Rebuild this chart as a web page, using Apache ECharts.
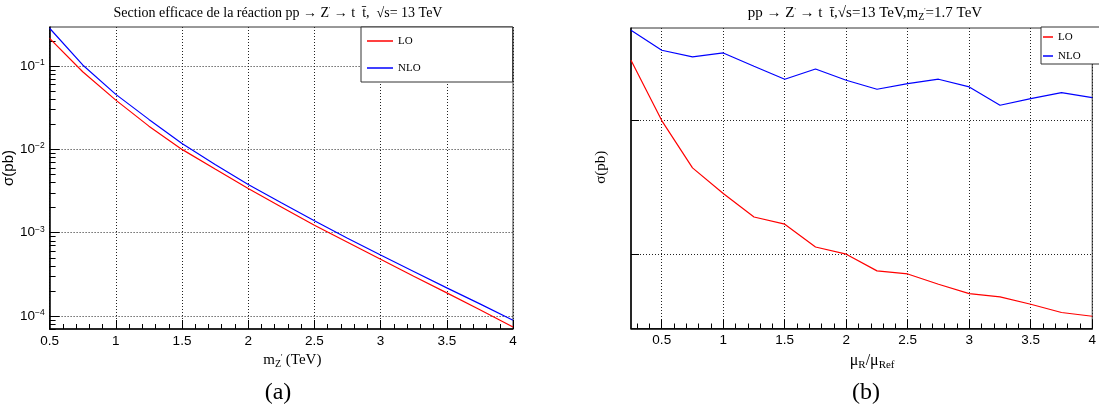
<!DOCTYPE html>
<html>
<head>
<meta charset="UTF-8">
<title>Section efficace pp -> Z' -> t tbar</title>
<script src="https://cdn.jsdelivr.net/npm/echarts@6/dist/echarts.min.js"></script>
<style>
  html, body { margin: 0; padding: 0; background: #fff; }
  #main { width: 1099px; height: 409px; }
</style>
</head>
<body>
<div id="main"></div>
<script type="text/javascript">
// (a) cross section vs Z' mass (TeV), in pb
var massTeV = [0.5, 0.75, 1, 1.25, 1.5, 1.75, 2, 2.25, 2.5, 2.75, 3, 3.25, 3.5, 3.75, 4];
var loMass  = [0.215, 0.0855, 0.039, 0.019, 0.0100, 0.0058, 0.0034, 0.00204, 0.00123, 7.7e-4, 4.8e-4, 3.0e-4, 1.9e-4, 1.19e-4, 7.4e-5];
var nloMass = [0.284, 0.103, 0.0457, 0.0229, 0.0118, 0.0066, 0.0038, 0.00229, 0.00139, 8.6e-4, 5.4e-4, 3.43e-4, 2.18e-4, 1.4e-4, 8.9e-5];

// (b) cross section vs renormalisation scale ratio, mZ' = 1.7 TeV
var muRatio = [0.25, 0.5, 0.75, 1, 1.25, 1.5, 1.75, 2, 2.25, 2.5, 2.75, 3, 3.25, 3.5, 3.75, 4];
var loMu  = [0.007452, 0.007000, 0.006645, 0.006453, 0.006277, 0.006223, 0.006052, 0.005998, 0.005873, 0.005850, 0.005773, 0.005703, 0.005678, 0.005623, 0.005561, 0.005533];
var nloMu = [0.007677, 0.007527, 0.007477, 0.007507, 0.007407, 0.007310, 0.007387, 0.007302, 0.007235, 0.007277, 0.007310, 0.007252, 0.007115, 0.007165, 0.007210, 0.007172];

// tick positions
var decadeTicks = [1e-4, 1e-3, 1e-2, 1e-1];
var decadeMinor = [];
[1e-5, 1e-4, 1e-3, 1e-2, 1e-1].forEach(function (d) {
    for (var k = 2; k <= 9; k++) decadeMinor.push(k * d);
});
var muMajor = [0.5, 1, 1.5, 2, 2.5, 3, 3.5, 4];
var muMinor = [0.3, 0.4, 0.6, 0.7, 0.8, 0.9, 1.1, 1.2, 1.3, 1.4, 1.6, 1.7, 1.8, 1.9, 2.1, 2.2, 2.3, 2.4,
               2.6, 2.7, 2.8, 2.9, 3.1, 3.2, 3.3, 3.4, 3.6, 3.7, 3.8, 3.9];
var muYTicks = [0.006, 0.007];

function pairs(xs, ys) {
    return xs.map(function (x, i) { return [x, ys[i]]; });
}

var SANS = 'Liberation Sans';
var SERIF = 'Liberation Serif';
var dotted = { color: '#222', type: [1, 2], width: 1 };
var axisLineStyle = { lineStyle: { color: '#000', width: 1.5 } };

var myChart = echarts.init(document.getElementById('main'));

var option = {
    animation: false,
    backgroundColor: '#fff',
    grid: [
        { left: 44.5, top: 27, width: 468.5, height: 302, show: true, borderColor: '#333', borderWidth: 1 },
        { left: 631, top: 28, width: 471, height: 300.5, show: true, borderColor: '#333', borderWidth: 1 }
    ],
    legend: [
        {
            data: ['LO', 'NLO'], orient: 'vertical', left: 361, top: 27,
            icon: 'rect', itemWidth: 26, itemHeight: 1.5, itemGap: 15,
            padding: [8, 92, 8, 6], borderColor: '#333', borderWidth: 1, backgroundColor: '#fff',
            textStyle: { fontFamily: SERIF, fontSize: 11, lineHeight: 12, color: '#000' }
        },
        {
            data: ['LO', 'NLO'], orient: 'vertical', left: 1041, top: 27,
            icon: 'rect', itemWidth: 10, itemHeight: 1.5, itemGap: 7,
            padding: [4, 30, 2, 2], borderColor: '#333', borderWidth: 1, backgroundColor: '#fff',
            textStyle: { fontFamily: SERIF, fontSize: 11, lineHeight: 12, color: '#000' }
        }
    ],
    xAxis: [
        {
            gridIndex: 0, type: 'value', min: 0.5, max: 4, interval: 0.5,
            name: '{n|m}{s|Z}{p|\'} {n|(TeV)}', nameLocation: 'middle', nameGap: 19,
            nameTextStyle: {
                padding: [0, 0, 0, 22],
                rich: {
                    n: { fontFamily: SERIF, fontSize: 15, color: '#000' },
                    s: { fontFamily: SERIF, fontSize: 10, color: '#000', verticalAlign: 'top', padding: [8, 0, 0, 0] },
                    p: { fontFamily: SERIF, fontSize: 8, color: '#000', verticalAlign: 'bottom', padding: [0, 0, 7, 0] }
                }
            },
            axisLine: axisLineStyle,
            axisTick: { inside: true, length: 9, lineStyle: { color: '#000' } },
            minorTick: { show: true, splitNumber: 5, length: 5, lineStyle: { color: '#000' } },
            axisLabel: { margin: 5, fontFamily: SANS, fontSize: 13.5, color: '#000' },
            splitLine: { show: true, lineStyle: dotted }
        },
        {
            gridIndex: 1, type: 'value', min: 0.25, max: 4,
            name: '{n|μ}{s|R}{n|/μ}{s|Ref}', nameLocation: 'middle', nameGap: 14,
            nameTextStyle: {
                padding: [0, 0, 0, 21],
                rich: {
                    n: { fontFamily: SERIF, fontSize: 16, color: '#000' },
                    s: { fontFamily: SERIF, fontSize: 11, color: '#000', verticalAlign: 'top', padding: [9, 0, 0, 0] }
                }
            },
            axisLine: axisLineStyle,
            axisTick: { inside: true, length: 9, customValues: muMajor, lineStyle: { color: '#000' } },
            axisLabel: { margin: 5, customValues: muMajor, fontFamily: SANS, fontSize: 13.5, color: '#000' },
            splitLine: { show: true, lineStyle: dotted }
        },
        {
            gridIndex: 1, type: 'value', min: 0.25, max: 4, position: 'bottom',
            axisLine: { show: false },
            axisTick: { inside: true, length: 5, customValues: muMinor, lineStyle: { color: '#000' } },
            axisLabel: { show: false },
            splitLine: { show: false }
        }
    ],
    yAxis: [
        {
            gridIndex: 0, type: 'log', min: 7e-5, max: 0.294, position: 'left',
            name: 'σ(pb)', nameLocation: 'middle', nameGap: 28,
            nameTextStyle: { fontFamily: SANS, fontSize: 15, color: '#000', padding: [0, 0, 0, 20] },
            axisLine: axisLineStyle,
            axisTick: { inside: true, length: 10, customValues: decadeTicks, lineStyle: { color: '#000' } },
            axisLabel: {
                margin: 5, customValues: decadeTicks,
                formatter: function (v) {
                    return '{b|10}{e|' + Math.round(Math.log10(v)).toString().replace('-', '−') + '}';
                },
                rich: {
                    b: { fontFamily: SANS, fontSize: 13.5, color: '#000' },
                    e: { fontFamily: SANS, fontSize: 8.5, color: '#000', verticalAlign: 'bottom', padding: [0, 0, 7, 0] }
                }
            },
            splitLine: { show: true, lineStyle: dotted }
        },
        {
            gridIndex: 0, type: 'log', min: 7e-5, max: 0.294, position: 'left',
            axisLine: { show: false },
            axisTick: { inside: true, length: 6, customValues: decadeMinor, lineStyle: { color: '#000' } },
            axisLabel: { show: false },
            splitLine: { show: false }
        },
        {
            gridIndex: 1, type: 'value', min: 0.005441, max: 0.007694, position: 'left',
            name: 'σ(pb)', nameLocation: 'middle', nameGap: 22,
            nameTextStyle: { fontFamily: SERIF, fontSize: 15, color: '#000', padding: [0, 0, 0, 22] },
            axisLine: axisLineStyle,
            axisTick: { inside: true, length: 8, customValues: muYTicks, lineStyle: { color: '#000' } },
            axisLabel: { show: false, customValues: muYTicks },
            splitLine: { show: true, lineStyle: dotted }
        }
    ],
    series: [
        { name: 'LO', type: 'line', xAxisIndex: 0, yAxisIndex: 0, data: pairs(massTeV, loMass),
          showSymbol: false, color: '#ff0000', lineStyle: { width: 1.2 } },
        { name: 'NLO', type: 'line', xAxisIndex: 0, yAxisIndex: 0, data: pairs(massTeV, nloMass),
          showSymbol: false, color: '#0000ff', lineStyle: { width: 1.2 } },
        { name: 'LO', type: 'line', xAxisIndex: 1, yAxisIndex: 2, data: pairs(muRatio, loMu),
          showSymbol: false, color: '#ff0000', lineStyle: { width: 1.2 } },
        { name: 'NLO', type: 'line', xAxisIndex: 1, yAxisIndex: 2, data: pairs(muRatio, nloMu),
          showSymbol: false, color: '#0000ff', lineStyle: { width: 1.2 } }
    ],
    graphic: [
        {
            type: 'text', x: 278, y: 13,
            style: {
                text: 'Section efficace de la réaction pp → Z{p|\'} → t  t\u0304,  √s= 13 TeV',
                font: '14px ' + SERIF, fill: '#000', align: 'center', verticalAlign: 'middle',
                rich: { p: { fontSize: 7, fontFamily: SERIF, verticalAlign: 'bottom', padding: [0, 0, 8, 0] } }
            }
        },
        {
            type: 'text', x: 865, y: 13,
            style: {
                text: 'pp → Z{p|\'} → t  t\u0304,√s=13 TeV,m{s|Z}{p|\'}=1.7 TeV',
                font: '15px ' + SERIF, fill: '#000', align: 'center', verticalAlign: 'middle',
                rich: {
                    p: { fontSize: 7, fontFamily: SERIF, verticalAlign: 'bottom', padding: [0, 0, 8, 0] },
                    s: { fontSize: 10, fontFamily: SERIF, verticalAlign: 'top', padding: [8, 0, 0, 0] }
                }
            }
        },
        {
            type: 'text', x: 278, y: 393,
            style: { text: '(a)', font: '24px ' + SERIF, fill: '#000', align: 'center', verticalAlign: 'middle' }
        },
        {
            type: 'text', x: 866, y: 393,
            style: { text: '(b)', font: '24px ' + SERIF, fill: '#000', align: 'center', verticalAlign: 'middle' }
        }
    ]
};

myChart.setOption(option);
</script>
</body>
</html>
